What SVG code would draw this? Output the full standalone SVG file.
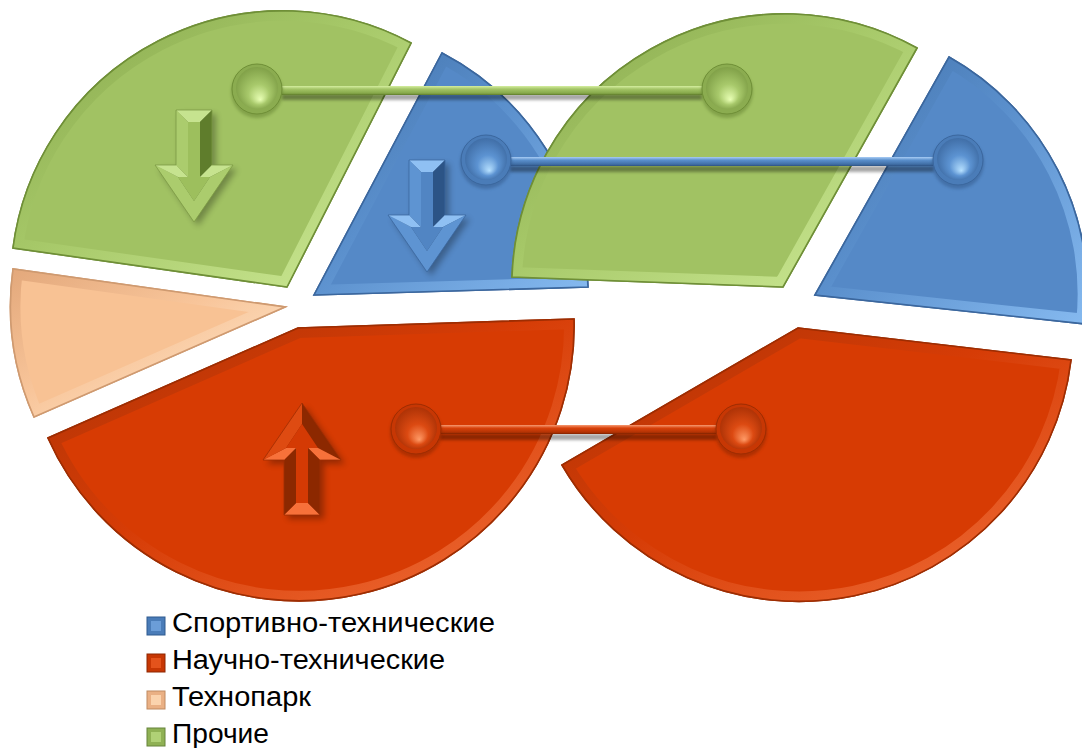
<svg xmlns="http://www.w3.org/2000/svg" xmlns:xlink="http://www.w3.org/1999/xlink" width="1082" height="748" viewBox="0 0 1082 748">
<defs>
<style>
.t{font-family:"Liberation Sans",Arial,sans-serif;font-size:27px;fill:#000}
.bev{fill:none;stroke-width:20;stroke-linejoin:round}
.fg{fill:#a1c263;stroke:#6f8f37;stroke-width:1.6}
.fb{fill:#5589c7;stroke:#3b679e;stroke-width:1.6}
.fr{fill:#d73b03;stroke:#9e2d02;stroke-width:1.6}
.fp{fill:#f8c294;stroke:#cf9a70;stroke-width:1.6}
.shadow{fill:#000;opacity:.35}
.ash{fill:#000;opacity:.3}
.gL{fill:#c6e38f}.gM{fill:#abcc6d}.gD{fill:#5f7d2c}.gF{fill:#9dbf5d}
.bL{fill:#8fc0f3}.bM{fill:#5e94d2}.bD{fill:#2c5486}.bF{fill:#5185c3}
.rL{fill:#f7713a}.rM{fill:#de4b12}.rD{fill:#8c2800}.rF{fill:#d43a04}
</style>
<filter id="blur" x="-10%" y="-100%" width="120%" height="300%"><feGaussianBlur stdDeviation="1.8"/></filter>
<filter id="blur3" x="-30%" y="-30%" width="160%" height="160%"><feGaussianBlur stdDeviation="3"/></filter>
<linearGradient id="bevG" x1="0" y1="0" x2="1" y2="1"><stop offset="0" stop-color="#86a64b"/><stop offset=".45" stop-color="#a6c868"/><stop offset="1" stop-color="#cfeb98"/></linearGradient>
<linearGradient id="bevB" x1="0" y1="0" x2="1" y2="1"><stop offset="0" stop-color="#4272ab"/><stop offset=".45" stop-color="#5a8fcc"/><stop offset="1" stop-color="#86baf0"/></linearGradient>
<linearGradient id="bevR" x1="0" y1="0" x2="1" y2="1"><stop offset="0" stop-color="#ad3306"/><stop offset=".45" stop-color="#d63c06"/><stop offset="1" stop-color="#f2703a"/></linearGradient>
<linearGradient id="bevP" x1="0" y1="0" x2="1" y2="1"><stop offset="0" stop-color="#e3a87b"/><stop offset=".45" stop-color="#f8c59a"/><stop offset="1" stop-color="#ffeed6"/></linearGradient>
<linearGradient id="lineG" x1="0" y1="0" x2="0" y2="1"><stop offset="0" stop-color="#d4ee9f"/><stop offset=".35" stop-color="#a3c466"/><stop offset=".8" stop-color="#86a84a"/><stop offset="1" stop-color="#5d7a2a"/></linearGradient>
<linearGradient id="lineB" x1="0" y1="0" x2="0" y2="1"><stop offset="0" stop-color="#a9cdf5"/><stop offset=".35" stop-color="#5a8fcc"/><stop offset=".8" stop-color="#416fa6"/><stop offset="1" stop-color="#2d5283"/></linearGradient>
<linearGradient id="lineR" x1="0" y1="0" x2="0" y2="1"><stop offset="0" stop-color="#f79a72"/><stop offset=".35" stop-color="#d8410a"/><stop offset=".8" stop-color="#b43304"/><stop offset="1" stop-color="#7f2300"/></linearGradient>
<radialGradient id="ballG" cx=".5" cy=".5" r=".55" fx=".58" fy=".78"><stop offset="0" stop-color="#e8ffb4"/><stop offset=".45" stop-color="#a8c96b"/><stop offset="1" stop-color="#7c9c44"/></radialGradient>
<radialGradient id="ballB" cx=".5" cy=".5" r=".55" fx=".58" fy=".78"><stop offset="0" stop-color="#b6e0ff"/><stop offset=".45" stop-color="#5c93d2"/><stop offset="1" stop-color="#3d6aa2"/></radialGradient>
<radialGradient id="ballR" cx=".5" cy=".5" r=".55" fx=".58" fy=".78"><stop offset="0" stop-color="#ff9a66"/><stop offset=".45" stop-color="#dc4a12"/><stop offset="1" stop-color="#a83005"/></radialGradient>
<path id="arrowOuter" d="M-18,-112 H18 V-57 H39 L0,0 L-39,-57 H-18 Z"/>
<clipPath id="cGL"><path d="M287,287 L13,248 A272,272 0 0 1 411,43 Z"/></clipPath>
<clipPath id="cBL"><path d="M314,295 L442,53 A273,273 0 0 1 588,287 Z"/></clipPath>
<clipPath id="cPL"><path d="M285,307 L34,417 A274,274 0 0 1 13,269 Z"/></clipPath>
<clipPath id="cRL"><path d="M298,328 L574,319 A275,275 0 0 1 48,438 Z"/></clipPath>
<clipPath id="cGR"><path d="M783,287 L512,277 A273,273 0 0 1 917,48 Z"/></clipPath>
<clipPath id="cBR"><path d="M815,295 L949,57 A272,272 0 0 1 1086,324 Z"/></clipPath>
<clipPath id="cRR"><path d="M798,328 L1071,360 A274,274 0 0 1 562,465 Z"/></clipPath>
</defs>

<rect width="1082" height="748" fill="#fff"/>

<g id="slice-green-left">
<path class="fg" d="M287,287 L13,248 A272,272 0 0 1 411,43 Z"/>
<path class="bev" stroke="url(#bevG)" clip-path="url(#cGL)" d="M287,287 L13,248 A272,272 0 0 1 411,43 Z"/>
<path fill="none" stroke="#6f8f37" stroke-width="1.6" d="M287,287 L13,248 A272,272 0 0 1 411,43 Z"/>
<g id="arrow-green" transform="translate(194,222)">
<use href="#arrowOuter" class="ash" filter="url(#blur3)" x="4" y="4"/>
<polygon class="gL" points="-18,-112 18,-112 6,-100 -6,-100"/>
<polygon class="gD" points="18,-112 18,-57 6,-45 6,-100"/>
<polygon class="gL" points="18,-57 39,-57 16,-45 6,-45"/>
<polygon class="gM" points="39,-57 0,0 0,-21 16,-45"/>
<polygon class="gM" points="0,0 -39,-57 -16,-45 0,-21"/>
<polygon class="gL" points="-39,-57 -18,-57 -6,-45 -16,-45"/>
<polygon class="gM" points="-18,-57 -18,-112 -6,-100 -6,-45"/>
<polygon class="gF" points="-6,-100 6,-100 6,-45 16,-45 0,-21 -16,-45 -6,-45"/>
<use href="#arrowOuter" fill="none" stroke="#7c9a44" stroke-width="0.8"/>
</g>
</g>

<g id="slice-blue-left">
<path class="fb" d="M314,295 L442,53 A273,273 0 0 1 588,287 Z"/>
<path class="bev" stroke="url(#bevB)" clip-path="url(#cBL)" d="M314,295 L442,53 A273,273 0 0 1 588,287 Z"/>
<path fill="none" stroke="#3b679e" stroke-width="1.6" d="M314,295 L442,53 A273,273 0 0 1 588,287 Z"/>
<g id="arrow-blue" transform="translate(427,272)">
<use href="#arrowOuter" class="ash" filter="url(#blur3)" x="4" y="4"/>
<polygon class="bL" points="-18,-112 18,-112 6,-100 -6,-100"/>
<polygon class="bD" points="18,-112 18,-57 6,-45 6,-100"/>
<polygon class="bL" points="18,-57 39,-57 16,-45 6,-45"/>
<polygon class="bM" points="39,-57 0,0 0,-21 16,-45"/>
<polygon class="bM" points="0,0 -39,-57 -16,-45 0,-21"/>
<polygon class="bL" points="-39,-57 -18,-57 -6,-45 -16,-45"/>
<polygon class="bM" points="-18,-57 -18,-112 -6,-100 -6,-45"/>
<polygon class="bF" points="-6,-100 6,-100 6,-45 16,-45 0,-21 -16,-45 -6,-45"/>
<use href="#arrowOuter" fill="none" stroke="#3b679e" stroke-width="0.8"/>
</g>
</g>

<g id="slice-peach-left">
<path class="fp" d="M285,307 L34,417 A274,274 0 0 1 13,269 Z"/>
<path class="bev" stroke="url(#bevP)" clip-path="url(#cPL)" d="M285,307 L34,417 A274,274 0 0 1 13,269 Z"/>
<path fill="none" stroke="#cf9a70" stroke-width="1.6" d="M285,307 L34,417 A274,274 0 0 1 13,269 Z"/>
</g>

<g id="slice-red-left">
<path class="fr" d="M298,328 L574,319 A275,275 0 0 1 48,438 Z"/>
<path class="bev" stroke="url(#bevR)" clip-path="url(#cRL)" d="M298,328 L574,319 A275,275 0 0 1 48,438 Z"/>
<path fill="none" stroke="#9e2d02" stroke-width="1.6" d="M298,328 L574,319 A275,275 0 0 1 48,438 Z"/>
<g id="arrow-red" transform="translate(302,403) rotate(180)">
<use href="#arrowOuter" class="ash" filter="url(#blur3)" x="-4" y="-4"/>
<polygon class="rL" points="-18,-112 18,-112 6,-100 -6,-100"/>
<polygon class="rD" points="18,-112 18,-57 6,-45 6,-100"/>
<polygon class="rL" points="18,-57 39,-57 16,-45 6,-45"/>
<polygon class="rM" points="39,-57 0,0 0,-21 16,-45"/>
<polygon class="rD" points="0,0 -39,-57 -16,-45 0,-21"/>
<polygon class="rL" points="-39,-57 -18,-57 -6,-45 -16,-45"/>
<polygon class="rD" points="-18,-57 -18,-112 -6,-100 -6,-45"/>
<polygon class="rF" points="-6,-100 6,-100 6,-45 16,-45 0,-21 -16,-45 -6,-45"/>
<use href="#arrowOuter" fill="none" stroke="#9e2d02" stroke-width="0.8"/>
</g>
</g>

<g id="slice-green-right">
<path class="fg" d="M783,287 L512,277 A273,273 0 0 1 917,48 Z"/>
<path class="bev" stroke="url(#bevG)" clip-path="url(#cGR)" d="M783,287 L512,277 A273,273 0 0 1 917,48 Z"/>
<path fill="none" stroke="#6f8f37" stroke-width="1.6" d="M783,287 L512,277 A273,273 0 0 1 917,48 Z"/>
</g>

<g id="slice-blue-right">
<path class="fb" d="M815,295 L949,57 A272,272 0 0 1 1086,324 Z"/>
<path class="bev" stroke="url(#bevB)" clip-path="url(#cBR)" d="M815,295 L949,57 A272,272 0 0 1 1086,324 Z"/>
<path fill="none" stroke="#3b679e" stroke-width="1.6" d="M815,295 L949,57 A272,272 0 0 1 1086,324 Z"/>
</g>

<g id="slice-red-right">
<path class="fr" d="M798,328 L1071,360 A274,274 0 0 1 562,465 Z"/>
<path class="bev" stroke="url(#bevR)" clip-path="url(#cRR)" d="M798,328 L1071,360 A274,274 0 0 1 562,465 Z"/>
<path fill="none" stroke="#9e2d02" stroke-width="1.6" d="M798,328 L1071,360 A274,274 0 0 1 562,465 Z"/>
</g>

<g id="connectors">
<g id="conn-green">
<rect class="shadow" filter="url(#blur)" x="282" y="94" width="420" height="6"/>
<rect x="278" y="86" width="428" height="9" fill="url(#lineG)"/>
<circle cx="257" cy="92" r="26" fill="#5d7a2a" opacity=".45" filter="url(#blur)"/>
<circle cx="257" cy="89" r="25" fill="#8bac50" stroke="#6f8f37" stroke-width="1"/>
<circle cx="257" cy="88" r="21" fill="url(#ballG)"/>
<circle cx="727" cy="92" r="26" fill="#5d7a2a" opacity=".45" filter="url(#blur)"/>
<circle cx="727" cy="89" r="25" fill="#8bac50" stroke="#6f8f37" stroke-width="1"/>
<circle cx="727" cy="88" r="21" fill="url(#ballG)"/>
</g>
<g id="conn-blue">
<rect class="shadow" filter="url(#blur)" x="510" y="166" width="424" height="6"/>
<rect x="506" y="157" width="432" height="9" fill="url(#lineB)"/>
<circle cx="486" cy="163" r="26" fill="#2d5283" opacity=".45" filter="url(#blur)"/>
<circle cx="486" cy="160" r="25" fill="#4a7cb8" stroke="#3b679e" stroke-width="1"/>
<circle cx="486" cy="159" r="21" fill="url(#ballB)"/>
<circle cx="958" cy="163" r="26" fill="#2d5283" opacity=".45" filter="url(#blur)"/>
<circle cx="958" cy="160" r="25" fill="#4a7cb8" stroke="#3b679e" stroke-width="1"/>
<circle cx="958" cy="159" r="21" fill="url(#ballB)"/>
</g>
<g id="conn-red">
<rect class="shadow" filter="url(#blur)" x="440" y="434" width="277" height="6"/>
<rect x="436" y="425" width="285" height="9" fill="url(#lineR)"/>
<circle cx="416" cy="432" r="26" fill="#7f2300" opacity=".45" filter="url(#blur)"/>
<circle cx="416" cy="429" r="25" fill="#c73704" stroke="#9e2d02" stroke-width="1"/>
<circle cx="416" cy="428" r="21" fill="url(#ballR)"/>
<circle cx="741" cy="432" r="26" fill="#7f2300" opacity=".45" filter="url(#blur)"/>
<circle cx="741" cy="429" r="25" fill="#c73704" stroke="#9e2d02" stroke-width="1"/>
<circle cx="741" cy="428" r="21" fill="url(#ballR)"/>
</g>
</g>

<g id="legend">
<g id="legend-sport">
<rect x="147" y="617" width="18" height="18" fill="#4a7cb8" stroke="#2f5a8f" stroke-width="1"/>
<rect x="151" y="621" width="10" height="10" fill="#6b9dd8"/>
<text class="t" x="172" y="632" textLength="323" lengthAdjust="spacingAndGlyphs">Спортивно-технические</text>
</g>
<g id="legend-science">
<rect x="147" y="654" width="18" height="18" fill="#c73704" stroke="#8e2700" stroke-width="1"/>
<rect x="151" y="658" width="10" height="10" fill="#e4531c"/>
<text class="t" x="172" y="669" textLength="273" lengthAdjust="spacingAndGlyphs">Научно-технические</text>
</g>
<g id="legend-technopark">
<rect x="147" y="691" width="18" height="18" fill="#eab084" stroke="#c08a60" stroke-width="1"/>
<rect x="151" y="695" width="10" height="10" fill="#fbd3ad"/>
<text class="t" x="172" y="706" textLength="139" lengthAdjust="spacingAndGlyphs">Технопарк</text>
</g>
<g id="legend-other">
<rect x="147" y="728" width="18" height="18" fill="#8fb154" stroke="#66843a" stroke-width="1"/>
<rect x="151" y="732" width="10" height="10" fill="#b0d176"/>
<text class="t" x="172" y="743" textLength="97" lengthAdjust="spacingAndGlyphs">Прочие</text>
</g>
</g>
</svg>
